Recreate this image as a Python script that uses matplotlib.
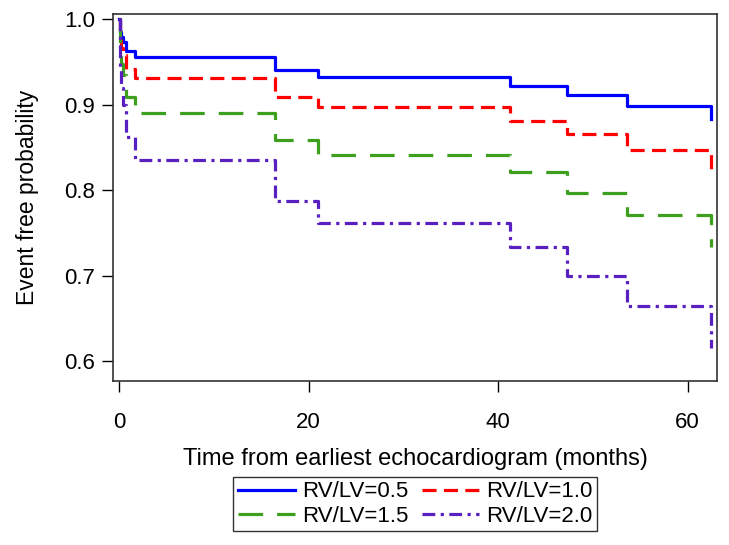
import matplotlib

matplotlib.use("Agg")
import matplotlib.pyplot as plt

plt.rcParams["font.family"] = ["Liberation Sans", "DejaVu Sans"]

# event times (months), shared by the four model curves
TIMES = [0, 0.1, 0.25, 0.45, 0.7, 1.7, 16.5, 21.0, 41.3, 47.3, 53.6, 62.5]

S_05 = [1.0, 0.985, 0.979, 0.974, 0.963, 0.956, 0.941, 0.933, 0.922, 0.912, 0.899, 0.884]
S_10 = [1.0, 0.976, 0.967, 0.958, 0.942, 0.931, 0.909, 0.898, 0.881, 0.866, 0.847, 0.822]
S_15 = [1.0, 0.962, 0.948, 0.935, 0.909, 0.891, 0.859, 0.841, 0.821, 0.797, 0.771, 0.733]
S_20 = [1.0, 0.942, 0.920, 0.900, 0.862, 0.836, 0.787, 0.762, 0.733, 0.700, 0.664, 0.615]

LABELS = ["RV/LV=0.5", "RV/LV=1.0", "RV/LV=1.5", "RV/LV=2.0"]
COLORS = ["#0000ff", "#ff0000", "#3ca01e", "#5a1fc0"]
DASHES = [None, (4.4, 2.3), (7.7, 4.4), (4.0, 1.7, 1.0, 1.7)]

fig = plt.figure(figsize=(7.29, 5.45), dpi=100)
ax = fig.add_axes([113 / 729, 1 - 381 / 545, (717 - 113) / 729, (381 - 14) / 545])

lines = []
for s, lab, col, d in zip([S_05, S_10, S_15, S_20], LABELS, COLORS, DASHES):
    line, = ax.plot(TIMES, s, drawstyle="steps-post", color=col, lw=2.3, label=lab)
    if d is not None:
        line.set_dashes(d)
    lines.append(line)

ax.set_xlim(-0.63, 63.1)
ax.set_ylim(0.5766, 1.0064)
ax.set_xticks([0, 20, 40, 60])
ax.set_yticks([0.6, 0.7, 0.8, 0.9, 1.0])
ax.set_yticklabels(["0.6", "0.7", "0.8", "0.9", "1.0"])
ax.tick_params(axis="x", direction="out", length=8, width=1, pad=14, labelsize=16)
ax.tick_params(axis="y", direction="out", length=8, width=1, pad=5, labelsize=16)
for sp in ax.spines.values():
    sp.set_linewidth(1.2)
    sp.set_color("#333333")

ax.set_xlabel("Time from earliest echocardiogram (months)", fontsize=17, labelpad=11)
ax.set_ylabel("Event free probability", fontsize=16.5, labelpad=18)

# row-wise order: 0.5, 1.0 / 1.5, 2.0
order = [0, 2, 1, 3]
fig.legend([lines[i] for i in order], [LABELS[i] for i in order],
           loc="upper center", bbox_to_anchor=(415 / 729, 1 - 477 / 545), ncol=2,
           fontsize=16, frameon=True, fancybox=False, edgecolor="black",
           handlelength=2.6, handletextpad=0.3, columnspacing=0.6,
           labelspacing=0.15, borderpad=0.2, borderaxespad=0)

fig.savefig("out.png", dpi=100)
